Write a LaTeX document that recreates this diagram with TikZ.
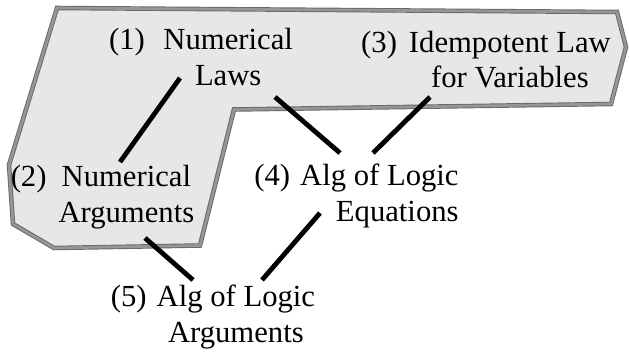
\documentclass[tikz,border=0pt]{standalone}
\usepackage{fontspec}
\setmainfont{Liberation Serif}
\usepackage{tikz}
\usetikzlibrary{calc, positioning}
\definecolor{panelfill}{RGB}{233,230,230}
\definecolor{paneledge}{RGB}{150,150,150}
\definecolor{paneldark}{RGB}{105,105,105}

\begin{document}
\begin{tikzpicture}[x=0.75pt, y=-0.75pt,
    topic/.style={inner sep=0pt, font=\fontsize{23}{26.5}\selectfont},
    link/.style={line width=3.6pt, black}]
    \useasboundingbox (0,0) rectangle (629,352);
    % grey panel round (1), (2) and (3)
    \draw[draw=paneldark, double=paneledge, double distance=2pt, line width=0.7pt, fill=panelfill]
        (57,8) -- (617,12) -- (626,47) -- (611,104) -- (234,109.5) -- (200,245.5)
        -- (54,248) -- (13,224) -- (9,165) -- cycle;

    \node[topic] (numlaws) at (201,60.5) {\begin{tabular}{@{}r@{\hspace{14pt}}c@{}}(1)&Numerical\\&Laws\end{tabular}};
    \node[topic] (numargs) at (102.5,197.5) {\begin{tabular}{@{}r@{\hspace{9pt}}c@{}}(2)&Numerical\\&Arguments\end{tabular}};
    \node[topic] (idemlaw) at (486,63) {\begin{tabular}{@{}r@{\hspace{9pt}}c@{}}(3)&Idempotent Law\\&for Variables\end{tabular}};
    \node[topic] (algeqs) at (356.5,196.5) {\begin{tabular}{@{}r@{\hspace{7.5pt}}r@{}}(4)&Alg of Logic\\&Equations\end{tabular}};
    \node[topic] (algargs) at (213,317.5) {\begin{tabular}{@{}r@{\hspace{7.5pt}}c@{}}(5)&Alg of Logic\\&Arguments\end{tabular}};

    \draw[link] ([shift={(-21,17.5)}]numlaws.center) -- ([shift={(17.5,-35.5)}]numargs.center);
    \draw[link] ([shift={(74,36.5)}]numlaws.center) -- ([shift={(-16.5,-43.5)}]algeqs.center);
    \draw[link] ([shift={(-56,34)}]idemlaw.center) -- ([shift={(16.5,-43.5)}]algeqs.center);
    \draw[link] ([shift={(42.5,40.5)}]numargs.center) -- ([shift={(-20,-37.5)}]algargs.center);
    \draw[link] ([shift={(-36.5,16.5)}]algeqs.center) -- ([shift={(49,-37.5)}]algargs.center);
\end{tikzpicture}
\end{document}
